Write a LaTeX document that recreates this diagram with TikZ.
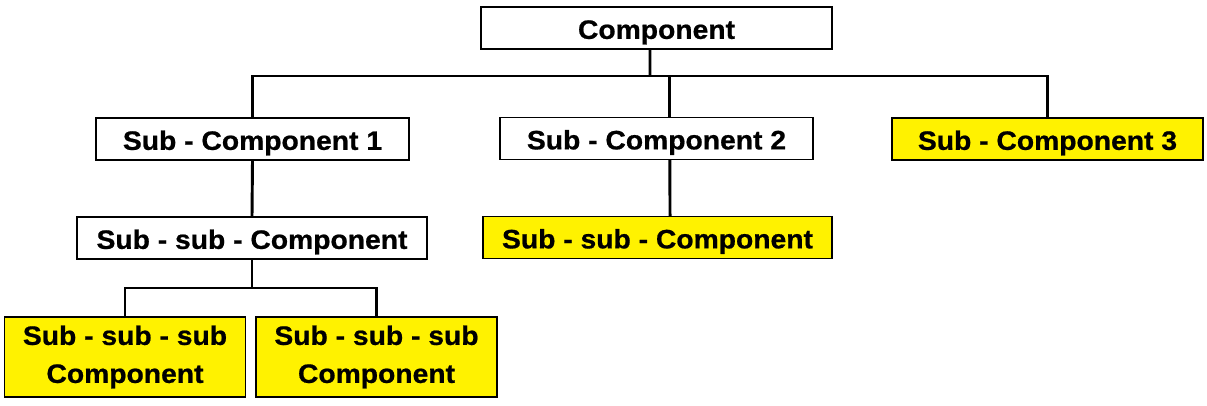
\documentclass[tikz,border=0pt]{standalone}
\usepackage{fontspec}
\setmainfont{Liberation Sans}[BoldFeatures={FakeStretch=1.06,FakeBold=0.7}]
\definecolor{boxyellow}{RGB}{255,242,0}
\begin{document}
\begin{tikzpicture}[x=0.75pt,y=-0.75pt,
  box/.style={draw=black,line width=1.1pt,fill=white,inner sep=0pt,minimum height=31.5pt,font=\fontsize{20}{28.5}\selectfont\bfseries,align=center,text height=16.3pt,text depth=0pt},
  ybox/.style={box,fill=boxyellow},
  tall/.style={minimum height=60pt,text height=,text depth=},
  conn/.style={line width=2.2pt,draw=black}]
\useasboundingbox (0,0) rectangle (1207,405);
\node[box,minimum width=263.25pt] (comp) at (656.5,28) {Component};
\node[box,minimum width=234.75pt] (sc1) at (252.5,139) {Sub - Component 1};
\node[box,minimum width=234.75pt] (sc2) at (656.5,138.5) {Sub - Component 2};
\node[ybox,minimum width=233.25pt] (sc3) at (1047.5,139) {Sub - Component 3};
\node[box,minimum width=262.5pt] (ssc1) at (252,238) {Sub - sub - Component};
\node[ybox,minimum width=261.75pt] (ssc2) at (657.5,237.5) {Sub - sub - Component};
\node[ybox,tall,minimum width=180.75pt] (s1) at (125,357) {Sub - sub - sub\\Component};
\node[ybox,tall,minimum width=180.75pt] (s2) at (376.5,357) {Sub - sub - sub\\Component};
\coordinate (bar) at (650,76);
\coordinate (bar2) at (252,288);
\coordinate (sc2top) at ([xshift=10pt]sc2.north);
\draw[conn] ([xshift=-4.9pt]comp.south) -- (bar);
\draw[conn] (sc1.north) |- (bar) -| (sc3.north);
\draw[conn] (bar -| sc2top) -- (sc2top);
\draw[conn] ([xshift=10pt]sc2.south) -- ([xshift=9.4pt]ssc2.north);
\draw[conn] (sc1.south) -- (ssc1.north);
\draw[conn] (ssc1.south) -- (bar2);
\draw[conn] (s1.north) |- (bar2) -| (s2.north);
\end{tikzpicture}
\end{document}
